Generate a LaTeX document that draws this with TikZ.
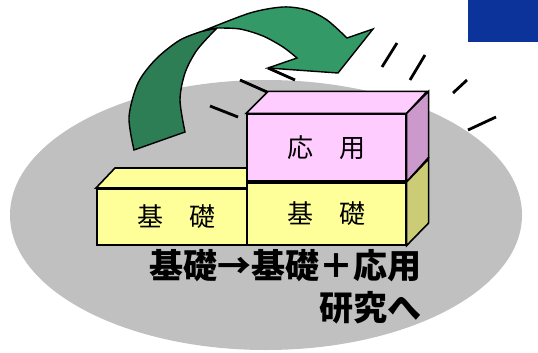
\documentclass[tikz,border=0pt]{standalone}
\usepackage{fontspec}
\newfontfamily\jpfont{Noto Sans CJK JP}
\newfontfamily\jpheavy{Noto Sans CJK JP Black}
\definecolor{sol}{HTML}{C0C0C0}
\definecolor{bleu}{HTML}{0B3399}
\definecolor{vertclair}{HTML}{339966}
\definecolor{vertfonce}{HTML}{2D7D55}
\definecolor{jaune}{HTML}{FFFF99}
\definecolor{jaunecote}{HTML}{CCCC77}
\definecolor{rose}{HTML}{FFCCFF}
\definecolor{rosecote}{HTML}{CC99CC}
\tikzset{
  face/.style={draw=black, line width=1.6pt, line join=miter},
  boite/.style={face, inner sep=0pt, font=\jpfont\fontsize{26}{26}\selectfont},
  trait/.style={line width=2.8pt},
  gros/.style={inner sep=0pt, font=\jpheavy\fontsize{34}{34}\selectfont},
}

\begin{document}
\begin{tikzpicture}[x=1pt, y=-1pt]
  \useasboundingbox (0,0) rectangle (538,353);
  \fill[sol] (266,215) ellipse [x radius=256pt, y radius=135pt];
  \fill[bleu] (468,0) rectangle (538,42);

  % fleche courbe
  \filldraw[face, line width=1.4pt, fill=vertfonce]
    plot[smooth] coordinates {(134,150) (129,117) (138,83) (156,59) (180,40) (203,31)}
    -- plot[smooth] coordinates {(217,28) (197,50) (185,73) (180,100) (185,132)}
    -- cycle;
  \filldraw[face, line width=1.4pt, fill=vertclair]
    plot[smooth] coordinates {(203,31) (250,13) (283,7) (307,10) (327,20) (347,38)}
    -- (373,29) -- (338,73) -- (268,68) -- (297,58)
    -- plot[smooth] coordinates {(297,58) (283,47) (263,36) (240,29) (217,28)}
    -- cycle;

  \draw[trait] (268,68) -- (295,80);
  \draw[trait] (240,80) -- (267,92);
  \draw[trait] (210,106) -- (238,117);
  \draw[trait] (382,67) -- (397,43);
  \draw[trait] (410,80) -- (425,55);
  \draw[trait] (453,93) -- (467,80);
  \draw[trait] (468,130) -- (496,117);

  % bloc de gauche
  \filldraw[face, fill=jaune] (96,188) -- (115,168) -- (250,168) -- (250,188) -- cycle;
  \node[boite, fill=jaune, minimum width=150pt, minimum height=56pt, anchor=north west] (kisoA) at (96,188) {\hspace{10pt}基　礎};

  % bloc de droite
  \node[boite, fill=jaune, minimum width=159pt, minimum height=62pt, anchor=north west] (kisoB) at (246,182) {基　礎};
  \node[boite, fill=rose, minimum width=159pt, minimum height=67pt, anchor=south west] (ouyou) at (kisoB.north west) {応　用};
  \filldraw[face, fill=rose] (ouyou.north west) -- ++(22,-22) -- ++(159,0) -- (ouyou.north east) -- cycle;
  \filldraw[face, fill=rosecote] (ouyou.north east) -- ++(22,-22) -- ++(0,66) -- (ouyou.south east) -- cycle;
  \filldraw[face, fill=jaunecote] (kisoB.north east) -- ++(22,-23) -- ++(0,64) -- (kisoB.south east) -- cycle;

  \node[gros, anchor=east] (titre) at (422,266) {基礎→基礎＋応用};
  \node[gros, anchor=east] (suite) at (422,308) {研究へ};
\end{tikzpicture}
\end{document}
